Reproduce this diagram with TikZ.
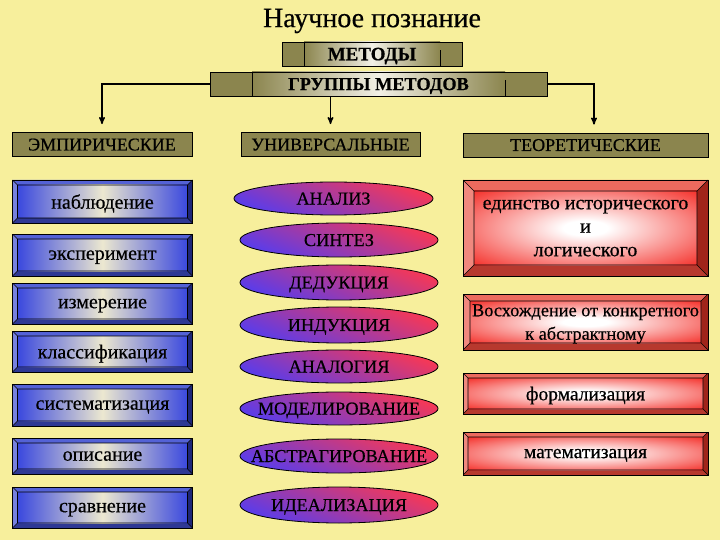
\documentclass[tikz,border=0pt]{standalone}
\usepackage{fontspec}
\setmainfont{Liberation Serif}[FakeBold=0.5]
\usetikzlibrary{arrows,shapes.geometric}

\definecolor{bgyellow}{RGB}{247,239,156}
\definecolor{olivehd}{RGB}{139,133,78}
\definecolor{olivelite}{RGB}{242,240,230}
\definecolor{blueA}{RGB}{84,98,214}
\definecolor{blueB}{RGB}{30,38,120}
\definecolor{bluedeep}{RGB}{58,72,222}
\definecolor{bluelite}{RGB}{236,232,208}
\definecolor{redA}{RGB}{236,106,94}
\definecolor{redB}{RGB}{160,36,26}
\definecolor{reddeep}{RGB}{244,46,40}
\definecolor{ellblue}{RGB}{88,60,236}
\definecolor{ellred}{RGB}{248,56,84}

\pgfdeclareradialshading{redglow}{\pgfpoint{0bp}{0bp}}{color(0bp)=(white); color(5bp)=(white); color(36bp)=(reddeep); color(50bp)=(reddeep)}

% bevelled button: #1 inset, #2 light side, #3 dark side, #4 shading of the face
\newcommand{\bevelpic}[4]{%
	\coordinate (o1) at (path picture bounding box.north west);
	\coordinate (o2) at (path picture bounding box.north east);
	\coordinate (o3) at (path picture bounding box.south east);
	\coordinate (o4) at (path picture bounding box.south west);
	\coordinate (i1) at ([shift={(#1,-#1)}]o1);
	\coordinate (i2) at ([shift={(-#1,-#1)}]o2);
	\coordinate (i3) at ([shift={(-#1,#1)}]o3);
	\coordinate (i4) at ([shift={(#1,#1)}]o4);
	\fill[#2] (o1) -- (o2) -- (i2) -- (i1) -- cycle;
	\fill[#2!80!white] (o1) -- (i1) -- (i4) -- (o4) -- cycle;
	\fill[#3!70!#2] (o4) -- (i4) -- (i3) -- (o3) -- cycle;
	\fill[#3] (o2) -- (o3) -- (i3) -- (i2) -- cycle;
	\shade[#4] (i1) rectangle (i3);
	\draw[line width=.6pt] (i1) rectangle (i3) (o1) -- (i1) (o2) -- (i2) (o3) -- (i3) (o4) -- (i4);
}

% olive bar with darker ends: #1 width of an end
\newcommand{\barpic}[1]{%
	\coordinate (o1) at (path picture bounding box.north west);
	\coordinate (o3) at (path picture bounding box.south east);
	\fill[olivehd] (o1) rectangle (o3);
	\shade[left color=olivehd, right color=olivehd, middle color=olivelite] ([xshift=#1]o1) rectangle ([xshift=-#1]o3);
	\draw[line width=.6pt] ([xshift=#1]o1) -- ([xshift=#1]o1 |- o3) ([xshift=-#1]o3) -- ([xshift=-#1]o3 |- o1);
}

\begin{document}
\begin{tikzpicture}[
	x=1pt, y=-1pt,
	>=stealth',
	shorten >=8pt,
	line width=1.4pt,
	title node/.style={font=\fontsize{28}{32}\selectfont},
	bar node/.style={draw, line width=.8pt, inner sep=0pt, minimum height=24pt, text depth=0pt, font=\fontsize{18.3}{20}\selectfont\bfseries, path picture={\barpic{#1}}},
	head node/.style={draw, fill=olivehd, line width=.8pt, inner sep=0pt, minimum height=24pt, text depth=0pt, font=\fontsize{18}{20}\selectfont},
	emp node/.style={draw, line width=.8pt, inner sep=0pt, minimum width=180pt, text depth=0pt, font=\fontsize{20}{22}\selectfont, path picture={\bevelpic{5pt}{blueA}{blueB}{left color=bluedeep, right color=bluedeep, middle color=bluelite}}},
	univ node/.style={ellipse, draw, line width=.8pt, inner xsep=-25pt, inner ysep=0pt, minimum width=198pt, minimum height=34pt, text depth=0pt, font=\fontsize{18.2}{20}\selectfont, top color=ellred, bottom color=ellblue, shading angle=-22},
	teor node/.style={draw, line width=.8pt, inner sep=0pt, minimum width=245pt, align=center, text depth=0pt, font=\fontsize{19.5}{23.5}\selectfont, path picture={\bevelpic{#1}{redA}{redB}{shading=redglow}}}
]

\fill[bgyellow] (0,0) rectangle (720,540);
\useasboundingbox (0,0) rectangle (720,540);

\node[title node] (title) at (372,21) {Научное познание};
\node[bar node=22pt, minimum width=180pt, font=\fontsize{19}{21}\selectfont\bfseries] (methods) at (372,54) {МЕТОДЫ};
\node[bar node=42pt, minimum width=337pt] (groups) at (378.5,84) {ГРУППЫ МЕТОДОВ};

\node[head node, minimum width=180pt] (emp) at (102,144.5) {ЭМПИРИЧЕСКИЕ};
\node[head node, minimum width=179pt] (univ) at (330.5,144.5) {УНИВЕРСАЛЬНЫЕ};
\node[head node, minimum width=245pt] (teor) at (585.5,145) {ТЕОРЕТИЧЕСКИЕ};

\node[emp node, minimum height=43pt] (e1) at (102.5,201.5) {наблюдение};
\node[emp node, minimum height=42pt] (e2) at (102.5,255) {эксперимент};
\node[emp node, minimum height=41pt] (e3) at (102.5,303.5) {измерение};
\node[emp node, minimum height=41pt] (e4) at (102.5,351.5) {классификация};
\node[emp node, minimum height=42pt] (e5) at (102.5,405) {систематизация};
\node[emp node, minimum height=36pt] (e6) at (102.5,456) {описание};
\node[emp node, minimum height=41pt] (e7) at (102.5,507.5) {сравнение};

\node[univ node, minimum width=199pt, minimum height=33pt] (u1) at (333.5,198.5) {АНАЛИЗ};
\node[univ node] (u2) at (339,240) {СИНТЕЗ};
\node[univ node, minimum height=35pt] (u3) at (339,282.5) {ДЕДУКЦИЯ};
\node[univ node, minimum height=36pt] (u4) at (339,325) {ИНДУКЦИЯ};
\node[univ node, minimum height=33pt] (u5) at (339,366.5) {АНАЛОГИЯ};
\node[univ node, minimum height=33pt] (u6) at (339,408.5) {МОДЕЛИРОВАНИЕ};
\node[univ node] (u7) at (339,456) {АБСТРАГИРОВАНИЕ};
\node[univ node, minimum height=36pt] (u8) at (339,505) {ИДЕАЛИЗАЦИЯ};

\node[teor node=11pt, minimum height=96pt, font=\fontsize{20}{23.5}\selectfont] (t1) at (585.5,228) {единство исторического\\и\\логического};
\node[teor node=7pt, minimum height=56pt, font=\fontsize{18.3}{23.5}\selectfont] (t2) at (585.5,322) {Восхождение от конкретного\\к абстрактному};
\node[teor node=5pt, minimum height=41pt] (t3) at (585.5,393.5) {формализация};
\node[teor node=5pt, minimum height=43pt] (t4) at (585.5,453.5) {математизация};

\draw[->] (groups.west) -| (emp.north);
\draw[->] (groups.south -| univ.north) -- (univ.north);
\draw[->] (groups.east) -| ([xshift=8.5pt]teor.north);
\end{tikzpicture}
\end{document}
